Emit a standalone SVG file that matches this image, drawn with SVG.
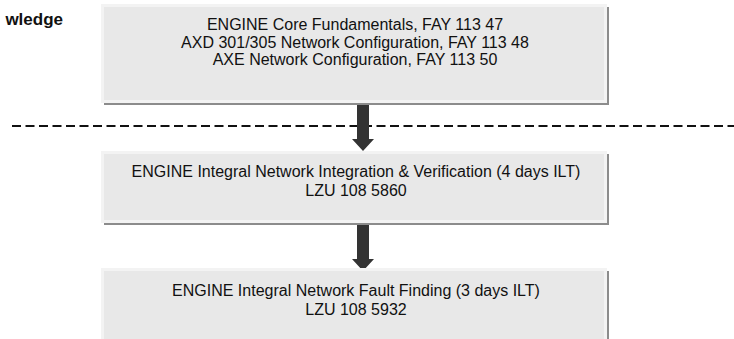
<svg xmlns="http://www.w3.org/2000/svg" width="734" height="339" viewBox="0 0 734 339">
  <style>
    .shadow { fill: #8c8c8c; }
    .box { fill: #e8e8e8; stroke: #f3f3f3; stroke-width: 3; }
    .t { font-family: "Liberation Sans", Arial, sans-serif; font-size: 16px; fill: #111; text-anchor: middle; }
    .hdr { font-family: "Liberation Sans", Arial, sans-serif; font-size: 17px; font-weight: bold; fill: #111; }
    .arrow { fill: #333; }
    .sep { stroke: #111; stroke-width: 2; stroke-dasharray: 9 4.5; fill: none; }
  </style>
  <rect width="734" height="339" fill="#fff"/>
  <text class="hdr" x="63" y="25" text-anchor="end">wledge</text>
  <g id="connectors">
    <line class="sep" x1="12" y1="126" x2="734" y2="126"/>
    <path class="arrow" d="M357,104 H369 V139 H374 L363,151 L352,139 H357 Z"/>
    <path class="arrow" d="M357,225 H369 V259 H374 L363,271 L352,259 H357 Z"/>
  </g>
  <g id="node1">
    <rect class="shadow" x="104" y="7" width="505" height="98"/>
    <rect class="box" x="102.5" y="5.5" width="503" height="96"/>
    <text class="t" x="355" y="30">ENGINE Core Fundamentals, FAY 113 47</text>
    <text class="t" x="355" y="47.5">AXD 301/305 Network Configuration, FAY 113 48</text>
    <text class="t" x="355" y="65">AXE Network Configuration, FAY 113 50</text>
  </g>
  <g id="node2">
    <rect class="shadow" x="104" y="154" width="505" height="71"/>
    <rect class="box" x="102.5" y="152.5" width="503" height="69"/>
    <text class="t" x="356" y="177">ENGINE Integral Network Integration &amp; Verification (4 days ILT)</text>
    <text class="t" x="356" y="196">LZU 108 5860</text>
  </g>
  <g id="node3">
    <rect class="shadow" x="104" y="271" width="505" height="72"/>
    <rect class="box" x="102.5" y="269.5" width="503" height="72"/>
    <text class="t" x="356" y="296">ENGINE Integral Network Fault Finding (3 days ILT)</text>
    <text class="t" x="356" y="315">LZU 108 5932</text>
  </g>
</svg>
